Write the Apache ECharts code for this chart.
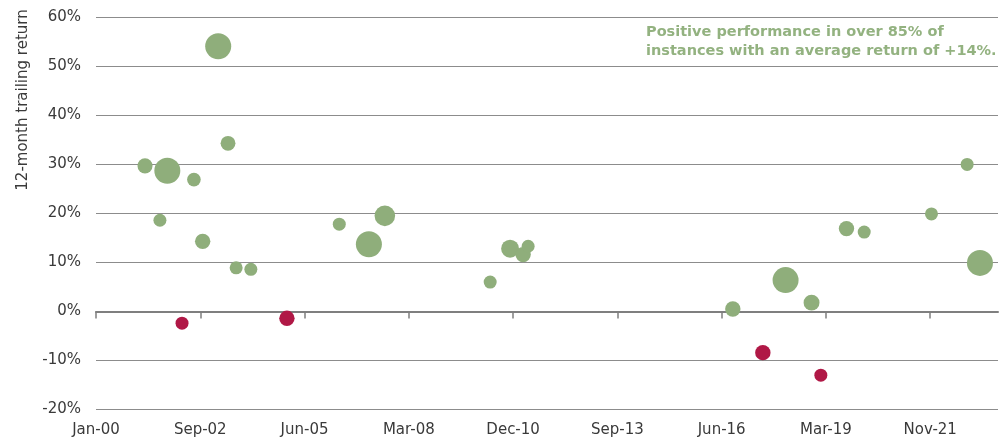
<!DOCTYPE html>
<html>
<head>
<meta charset="utf-8">
<script src="https://cdn.jsdelivr.net/npm/echarts@6/dist/echarts.min.js"></script>
<style>
  html, body { margin: 0; padding: 0; background: #fff; }
  #chart { width: 1005px; height: 441px; }
</style>
</head>
<body>
<div id="chart"></div>
<script>
// event dates, 12-month trailing return (%) and bubble weight
const eventDates = [
  '2001-04-15', '2001-09-05', '2001-11-15', '2002-04-05', '2002-07-28', '2002-10-20',
  '2003-03-18', '2003-06-20', '2003-09-06', '2004-01-25', '2005-01-05', '2006-05-22',
  '2007-03-02', '2007-08-02', '2010-05-08', '2010-11-15', '2011-03-20', '2011-05-07',
  '2016-09-20', '2017-07-05', '2018-02-08', '2018-10-15', '2019-01-12', '2019-09-15',
  '2020-03-03', '2021-12-08', '2022-11-15', '2023-03-18'
];
const trailingReturn = [
  29.7, 18.6, 28.7, -2.4, 26.9, 14.3,
  54.1, 34.3, 8.9, 8.6, -1.4, 17.8,
  13.7, 19.5, 6.0, 12.8, 11.6, 13.3,
  0.5, -8.4, 6.4, 1.8, -13.0, 16.9,
  16.2, 19.9, 30.0, 9.9
];
const bubbleWeight = [
  1.35, 1, 4, 1, 1.1, 1.4,
  4, 1.3, 1, 1, 1.4, 1,
  4, 2.5, 1, 1.9, 1.4, 1,
  1.4, 1.4, 4, 1.5, 1, 1.4,
  1, 1, 1, 4
];
const yTicks = { min: -20, max: 60, step: 10 };
const noteLines = [
  'Positive performance in over 85% of',
  'instances with an average return of +14%.'
];
const yTitle = '12-month trailing return';

const MONTHS = ['Jan', 'Feb', 'Mar', 'Apr', 'May', 'Jun', 'Jul', 'Aug', 'Sep', 'Oct', 'Nov', 'Dec'];
const BASE = Date.UTC(2000, 0, 1);
const DAY = 86400000;
const toDays = s => {
  const p = s.split('-').map(Number);
  return (Date.UTC(p[0], p[1] - 1, p[2]) - BASE) / DAY;
};
const dayLabel = d => {
  const dt = new Date(BASE + d * DAY);
  return MONTHS[dt.getUTCMonth()] + '-' + String(dt.getUTCFullYear() % 100).padStart(2, '0');
};

const points = eventDates.map((d, i) => [toDays(d), trailingReturn[i], bubbleWeight[i]]);
const tickDays = [0, 1000, 2000, 3000, 4000, 5000, 6000, 7000, 8000];
const FONT = '"DejaVu Sans", sans-serif';

const chart = echarts.init(document.getElementById('chart'));

const option = {
  animation: false,
  grid: { left: 96, right: 7, top: 17.3, bottom: 31.5, outerBoundsMode: 'none' },
  xAxis: {
    type: 'value',
    min: 0,
    max: 8650,
    interval: 1000,
    axisLine: { onZero: true, lineStyle: { color: '#7f7f7f', width: 2 } },
    axisTick: {
      show: true,
      customValues: tickDays,
      length: 7,
      lineStyle: { color: '#7f7f7f', width: 1.5 }
    },
    axisLabel: {
      customValues: tickDays,
      margin: 13,
      color: '#3a3a3a',
      fontSize: 15,
      fontFamily: FONT,
      formatter: v => dayLabel(v)
    },
    splitLine: { show: false }
  },
  yAxis: {
    type: 'value',
    min: yTicks.min,
    max: yTicks.max,
    interval: yTicks.step,
    axisLine: { show: false },
    axisTick: { show: false },
    axisLabel: {
      margin: 15,
      color: '#3a3a3a',
      fontSize: 15,
      fontFamily: FONT,
      formatter: '{value}%'
    },
    splitLine: { lineStyle: { color: '#8c8c8c', width: 1 } }
  },
  graphic: [
    {
      type: 'text',
      x: 23,
      y: 100,
      rotation: Math.PI / 2,
      style: {
        text: yTitle,
        fill: '#3a3a3a',
        font: '15px ' + FONT,
        textAlign: 'center',
        textVerticalAlign: 'middle'
      }
    },
    {
      type: 'text',
      left: 646,
      top: 23,
      style: {
        text: noteLines.join('\n'),
        fill: '#93b280',
        font: 'bold 14.5px ' + FONT,
        lineHeight: 19
      }
    }
  ],
  series: [
    {
      type: 'scatter',
      data: points,
      symbol: 'circle',
      symbolSize: v => 13 * Math.sqrt(v[2]),
      itemStyle: {
        opacity: 1,
        color: p => (p.value[1] < 0 ? '#b01846' : '#8fae7b')
      },
      z: 5
    }
  ]
};

chart.setOption(option);
</script>
</body>
</html>
